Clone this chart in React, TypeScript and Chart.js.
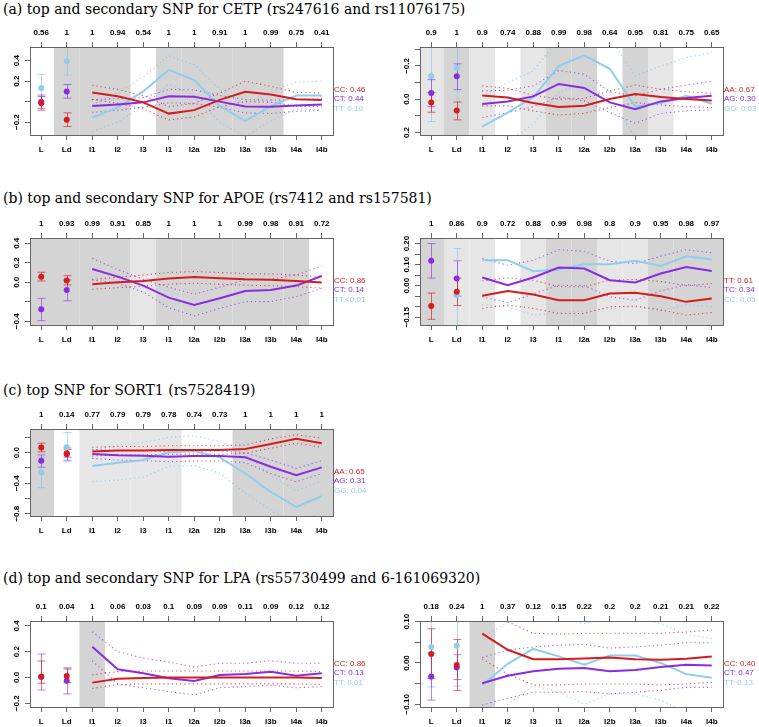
import React, { useEffect, useRef } from 'react';
import { Chart, registerables } from 'chart.js';
Chart.register(...registerables);

// ---------- shared ----------
const CATEGORIES = ['L', 'Ld', 'l1', 'l2', 'l3', 'l1', 'l2a', 'l2b', 'l3a', 'l3b', 'l4a', 'l4b'];
const TITLES = [
  '(a) top and secondary SNP for CETP (rs247616 and rs11076175)',
  '(b) top and secondary SNP for APOE (rs7412 and rs157581)',
  '(c) top SNP for SORT1 (rs7528419)',
  '(d) top and secondary SNP for LPA (rs55730499 and 6-161069320)',
];

// ---------- (a) left : CETP rs247616 ----------
const A1_TOP = ['0.56', '1', '1', '0.94', '0.54', '1', '1', '0.91', '1', '0.99', '0.75', '0.41'];
const A1_SHADE = [0, 2, 2, 2, 0, 2, 2, 2, 2, 2, 0, 0];
const A1_LEGEND = ['CC: 0.46', 'CT: 0.44', 'TT: 0.10'];
const A1_YRANGE = [-0.326, 0.534];
const A1_YTICKS = [-0.2, 0, 0.2, 0.4];
const A1_YLABELS = [-0.2, 0.2, 0.4];
const A1_CC = [0.09, 0.053, -0.007, -0.117, -0.083, 0.017, 0.097, 0.07, 0.023, 0.017];
const A1_CC_LO = [0.02, -0.015, -0.07, -0.18, -0.15, -0.05, 0.0, -0.005, -0.045, -0.05];
const A1_CC_HI = [0.16, 0.12, 0.06, -0.05, -0.015, 0.085, 0.2, 0.15, 0.09, 0.085];
const A1_CC_PT = [-0.016, -0.176];
const A1_CC_PT_LO = [-0.083, -0.243];
const A1_CC_PT_HI = [0.051, -0.11];
const A1_CT = [-0.043, -0.027, -0.007, 0.053, 0.047, 0.0, -0.047, -0.05, -0.037, -0.027];
const A1_CT_LO = [-0.105, -0.085, -0.055, -0.01, -0.02, -0.055, -0.11, -0.115, -0.095, -0.085];
const A1_CT_HI = [0.02, 0.03, 0.04, 0.12, 0.115, 0.06, 0.02, 0.015, 0.02, 0.03];
const A1_CT_PT = [0.0, 0.1];
const A1_CT_PT_LO = [-0.065, 0.034];
const A1_CT_PT_HI = [0.065, 0.167];
const A1_TT = [-0.157, -0.057, 0.1, 0.31, 0.21, -0.043, -0.19, -0.043, 0.06, 0.06];
const A1_TT_LO = [-0.29, -0.2, -0.04, 0.17, 0.06, -0.2, -0.34, -0.19, -0.07, -0.08];
const A1_TT_HI = [-0.03, 0.08, 0.24, 0.45, 0.36, 0.12, -0.04, 0.1, 0.19, 0.2];
const A1_TT_PT = [0.134, 0.394];
const A1_TT_PT_LO = [0.0, 0.26];
const A1_TT_PT_HI = [0.267, 0.53];

// ---------- (a) right : CETP rs11076175 (reversed axis) ----------
const A2_TOP = ['0.9', '1', '0.9', '0.74', '0.88', '0.99', '0.98', '0.64', '0.95', '0.81', '0.75', '0.65'];
const A2_SHADE = [1, 2, 1, 0, 1, 2, 2, 0, 2, 1, 0, 0];
const A2_LEGEND = ['AA: 0.67', 'AG: 0.30', 'GG: 0.03'];
const A2_YRANGE = [-0.314, 0.215];
const A2_YTICKS = [-0.3, -0.2, -0.1, 0, 0.1, 0.2];
const A2_YLABELS = [-0.2, 0, 0.2];
const A2_AA = [-0.023, -0.011, 0.023, 0.047, 0.039, -0.001, -0.031, -0.013, -0.001, 0.007];
const A2_AA_LO = [-0.08, -0.065, -0.025, 0.0, -0.005, -0.05, -0.085, -0.06, -0.045, -0.035];
const A2_AA_HI = [0.04, 0.04, 0.07, 0.095, 0.085, 0.05, 0.02, 0.035, 0.045, 0.05];
const A2_AA_PT = [0.019, 0.068];
const A2_AA_PT_LO = [-0.04, 0.017];
const A2_AA_PT_HI = [0.078, 0.124];
const A2_AG = [0.029, 0.013, -0.017, -0.092, -0.068, 0.019, 0.06, 0.013, -0.007, -0.021];
const A2_AG_LO = [-0.05, -0.055, -0.08, -0.173, -0.15, -0.045, -0.02, -0.06, -0.085, -0.108];
const A2_AG_HI = [0.11, 0.08, 0.045, -0.013, 0.01, 0.08, 0.145, 0.085, 0.07, 0.064];
const A2_AG_PT = [-0.037, -0.138];
const A2_AG_PT_LO = [-0.118, -0.213];
const A2_AG_PT_HI = [0.044, -0.058];
const A2_GG = [0.165, 0.08, -0.013, -0.199, -0.264, -0.183, 0.043, 0.023, -0.021, 0.027];
const A2_GG_LO = [-0.02, -0.1, -0.17, -0.36, -0.42, -0.37, -0.14, -0.2, -0.25, -0.28];
const A2_GG_HI = [0.35, 0.26, 0.15, -0.04, -0.1, 0.0, 0.23, 0.25, 0.21, 0.33];
const A2_GG_PT = [-0.14, -0.189];
const A2_GG_PT_LO = [-0.41, -0.45];
const A2_GG_PT_HI = [0.134, 0.07];

// ---------- (b) left : APOE rs7412 ----------
const B1_TOP = ['1', '0.93', '0.99', '0.91', '0.85', '1', '1', '1', '0.99', '0.98', '0.91', '0.72'];
const B1_SHADE = [2, 2, 2, 2, 1, 2, 2, 2, 2, 2, 2, 0];
const B1_LEGEND = ['CC: 0.86', 'CT: 0.14', 'TT:<0.01'];
const B1_YRANGE = [-0.438, 0.454];
const B1_YTICKS = [-0.4, -0.2, 0, 0.2, 0.4];
const B1_YLABELS = [-0.4, 0, 0.2, 0.4];
const B1_CC = [-0.02, 0.0, 0.014, 0.038, 0.055, 0.041, 0.031, 0.027, 0.014, -0.003];
const B1_CC_LO = [-0.072, -0.055, -0.04, -0.02, -0.01, -0.02, -0.03, -0.035, -0.045, -0.06];
const B1_CC_HI = [0.03, 0.05, 0.075, 0.1, 0.11, 0.1, 0.09, 0.085, 0.075, 0.05];
const B1_CC_PT = [0.057, 0.017];
const B1_CC_PT_LO = [0.013, -0.028];
const B1_CC_PT_HI = [0.103, 0.068];
const B1_CT = [0.137, 0.058, -0.034, -0.157, -0.232, -0.164, -0.089, -0.079, -0.034, 0.065];
const B1_CT_LO = [0.024, -0.01, -0.1, -0.26, -0.345, -0.267, -0.198, -0.198, -0.147, -0.062];
const B1_CT_HI = [0.246, 0.13, 0.03, -0.05, -0.123, -0.05, 0.024, 0.03, 0.075, 0.168];
const B1_CT_PT = [-0.277, -0.079];
const B1_CT_PT_LO = [-0.394, -0.19];
const B1_CT_PT_HI = [-0.164, 0.024];

// ---------- (b) right : APOE rs157581 ----------
const B2_TOP = ['1', '0.86', '0.9', '0.72', '0.88', '0.99', '0.98', '0.8', '0.9', '0.95', '0.98', '0.97'];
const B2_SHADE = [2, 1, 1, 0, 1, 2, 2, 1, 1, 2, 2, 2];
const B2_LEGEND = ['TT: 0.61', 'TC: 0.34', 'CC: 0.05'];
const B2_YRANGE = [-0.187, 0.2265];
const B2_YTICKS = [-0.15, -0.1, -0.05, 0, 0.05, 0.1, 0.15, 0.2];
const B2_YLABELS = [-0.15, 0, 0.1, 0.2];
const B2_TT = [-0.048, -0.026, -0.042, -0.069, -0.069, -0.037, -0.034, -0.05, -0.077, -0.061];
const B2_TT_LO = [-0.108, -0.092, -0.108, -0.132, -0.132, -0.1, -0.097, -0.115, -0.14, -0.128];
const B2_TT_HI = [0.023, 0.037, 0.026, -0.005, -0.005, 0.026, 0.03, 0.02, 0.0, 0.01];
const B2_TT_PT = [-0.097, -0.029];
const B2_TT_PT_LO = [-0.16, -0.094];
const B2_TT_PT_HI = [-0.035, 0.036];
const B2_TC = [0.039, 0.002, 0.039, 0.086, 0.081, 0.026, 0.015, 0.058, 0.089, 0.07];
const B2_TC_LO = [-0.053, -0.081, -0.04, 0.002, 0.0, -0.053, -0.069, -0.025, 0.005, -0.01];
const B2_TC_HI = [0.129, 0.097, 0.12, 0.171, 0.163, 0.116, 0.105, 0.14, 0.171, 0.156];
const B2_TC_PT = [0.118, 0.034];
const B2_TC_PT_LO = [0.036, -0.05];
const B2_TC_PT_HI = [0.2, 0.118];
const B2_CC = [0.121, 0.121, 0.069, 0.077, 0.102, 0.102, 0.118, 0.094, 0.14, 0.124];
const B2_CC_LO = [-0.09, -0.1, -0.14, -0.13, -0.12, -0.11, -0.1, -0.12, -0.09, -0.1];
const B2_CC_HI = [0.33, 0.34, 0.28, 0.29, 0.32, 0.31, 0.34, 0.31, 0.37, 0.35];
const B2_CC_PT = [null, -0.045];
const B2_CC_PT_LO = [null, -0.3];
const B2_CC_PT_HI = [null, 0.176];

// ---------- (c) SORT1 rs7528419 ----------
const C1_TOP = ['1', '0.14', '0.77', '0.79', '0.79', '0.78', '0.74', '0.73', '1', '1', '1', '1'];
const C1_SHADE = [2, 0, 1, 1, 1, 1, 0, 0, 2, 2, 2, 2];
const C1_LEGEND = ['AA: 0.65', 'AG: 0.31', 'GG: 0.04'];
const C1_YRANGE = [-0.83, 0.309];
const C1_YTICKS = [-0.8, -0.6, -0.4, -0.2, 0, 0.2];
const C1_YLABELS = [-0.8, -0.4, 0];
const C1_AA = [0.013, 0.026, 0.026, 0.035, 0.035, 0.035, 0.048, 0.114, 0.18, 0.123];
const C1_AA_LO = [-0.044, -0.031, -0.031, -0.022, -0.022, -0.022, -0.009, 0.057, 0.123, 0.07];
const C1_AA_HI = [0.07, 0.08, 0.08, 0.09, 0.09, 0.09, 0.1, 0.18, 0.233, 0.189];
const C1_AA_PT = [0.066, -0.01];
const C1_AA_PT_LO = [0.01, -0.06];
const C1_AA_PT_HI = [0.123, 0.04];
const C1_AG = [-0.018, -0.035, -0.04, -0.053, -0.044, -0.044, -0.062, -0.185, -0.295, -0.193];
const C1_AG_LO = [-0.075, -0.097, -0.106, -0.119, -0.11, -0.11, -0.132, -0.273, -0.383, -0.273];
const C1_AG_HI = [0.044, 0.026, 0.026, 0.013, 0.013, 0.022, 0.0, -0.097, -0.207, -0.106];
const C1_AG_PT = [-0.106, -0.02];
const C1_AG_PT_LO = [-0.19, -0.1];
const C1_AG_PT_HI = [-0.03, 0.06];
const C1_GG = [-0.176, -0.132, -0.097, 0.004, 0.022, -0.062, -0.273, -0.515, -0.712, -0.572];
const C1_GG_LO = [-0.38, -0.36, -0.32, -0.18, -0.17, -0.27, -0.53, -0.75, -0.95, -0.78];
const C1_GG_HI = [0.03, 0.1, 0.13, 0.2, 0.22, 0.145, -0.02, -0.3, -0.5, -0.37];
const C1_GG_PT = [-0.26, 0.07];
const C1_GG_PT_LO = [-0.46, -0.12];
const C1_GG_PT_HI = [-0.06, 0.264];

// ---------- (d) left : LPA rs55730499 ----------
const D1_TOP = ['0.1', '0.04', '1', '0.06', '0.03', '0.1', '0.09', '0.09', '0.11', '0.09', '0.12', '0.12'];
const D1_SHADE = [0, 0, 2, 0, 0, 0, 0, 0, 0, 0, 0, 0];
const D1_LEGEND = ['CC: 0.86', 'CT: 0.13', 'TT: 0.01'];
const D1_YRANGE = [-0.229, 0.438];
const D1_YTICKS = [-0.2, 0, 0.2, 0.4];
const D1_YLABELS = [-0.2, 0, 0.2, 0.4];
const D1_CC = [-0.04, -0.01, -0.005, 0.0, 0.0, 0.0, 0.0, 0.0, 0.0, -0.005];
const D1_CC_LO = [-0.085, -0.055, -0.05, -0.05, -0.05, -0.05, -0.05, -0.05, -0.05, -0.055];
const D1_CC_HI = [0.02, 0.045, 0.05, 0.05, 0.05, 0.05, 0.05, 0.05, 0.05, 0.045];
const D1_CC_PT = [0.006, 0.012];
const D1_CC_PT_LO = [-0.045, -0.04];
const D1_CC_PT_HI = [0.128, 0.065];
const D1_CT = [0.239, 0.063, 0.032, -0.006, -0.027, 0.019, 0.027, 0.045, 0.014, 0.032];
const D1_CT_LO = [0.13, -0.05, -0.08, -0.11, -0.135, -0.08, -0.07, -0.06, -0.08, -0.07];
const D1_CT_HI = [0.355, 0.2, 0.15, 0.12, 0.08, 0.11, 0.11, 0.13, 0.11, 0.11];
const D1_CT_PT = [0.006, -0.025];
const D1_CT_PT_LO = [-0.097, -0.128];
const D1_CT_PT_HI = [0.182, 0.075];

// ---------- (d) right : LPA 6-161069320 ----------
const D2_TOP = ['0.18', '0.24', '1', '0.37', '0.12', '0.15', '0.22', '0.2', '0.2', '0.21', '0.21', '0.22'];
const D2_SHADE = [0, 0, 2, 0, 0, 0, 0, 0, 0, 0, 0, 0];
const D2_LEGEND = ['CC: 0.40', 'CT: 0.47', 'TT: 0.13'];
const D2_YRANGE = [-0.1066, 0.1017];
const D2_YTICKS = [-0.1, -0.05, 0, 0.05, 0.1];
const D2_YLABELS = [-0.1, 0, 0.1];
const D2_CC = [0.071, 0.032, 0.009, 0.009, 0.011, 0.013, 0.009, 0.008, 0.01, 0.016];
const D2_CC_LO = [0.01, -0.027, -0.053, -0.053, -0.051, -0.051, -0.051, -0.053, -0.051, -0.047];
const D2_CC_HI = [0.135, 0.1, 0.072, 0.07, 0.072, 0.072, 0.072, 0.072, 0.075, 0.08];
const D2_CC_PT = [0.022, -0.005];
const D2_CC_PT_LO = [-0.038, -0.067];
const D2_CC_PT_HI = [0.083, 0.057];
const D2_CT = [-0.049, -0.031, -0.02, -0.014, -0.012, -0.02, -0.017, -0.01, -0.004, -0.006];
const D2_CT_LO = [-0.102, -0.085, -0.071, -0.071, -0.069, -0.075, -0.071, -0.066, -0.059, -0.059];
const D2_CT_HI = [0.013, 0.031, 0.039, 0.043, 0.045, 0.036, 0.039, 0.043, 0.049, 0.049];
const D2_CT_PT = [-0.033, -0.011];
const D2_CT_PT_LO = [-0.09, -0.04];
const D2_CT_PT_HI = [0.024, 0.02];
const D2_TT = [-0.054, -0.002, 0.034, 0.016, -0.004, 0.018, 0.018, 0.0, -0.027, -0.036];
const D2_TT_LO = [-0.17, -0.1, -0.055, -0.07, -0.1, -0.075, -0.075, -0.09, -0.12, -0.13];
const D2_TT_HI = [0.06, 0.1, 0.12, 0.11, 0.095, 0.11, 0.11, 0.095, 0.07, 0.059];
const D2_TT_PT = [0.039, 0.042];
const D2_TT_PT_LO = [-0.058, -0.056];
const D2_TT_PT_HI = [0.136, 0.14];

// ---------- styling ----------
const RED = { main: '#d41c1c', bar: 'rgba(212,28,28,0.65)', dot: 'rgba(212,28,28,0.75)', text: '#d41c1c' };
const PURPLE = { main: '#8a2be2', bar: 'rgba(138,43,226,0.6)', dot: 'rgba(138,43,226,0.75)', text: '#8a2be2' };
const LBLUE = { main: '#8ecdec', bar: 'rgba(135,200,235,0.7)', dot: 'rgba(135,200,235,0.85)', text: '#93cdea' };
const SHADES = ['', '#e6e6e6', '#d4d4d4'];
const AXIS = '#666666';
const SANS = '"Liberation Sans", Arial, Helvetica, sans-serif';
const SERIF = '"DejaVu Serif", "Liberation Serif", serif';

const COLS = [
  { left: 0, width: 378, axisW: 30, padRight: 45 },
  { left: 378, width: 381, axisW: 42, padRight: 36 },
];
const ROWS = [
  { top: 18, height: 144, topH: 29, botH: 27 },
  { top: 208, height: 144, topH: 30, botH: 27 },
  { top: 400, height: 144, topH: 29, botH: 28 },
  { top: 592, height: 135, topH: 29, botH: 20 },
];
const TITLE_TOPS = [0.5, 190, 382, 570];

type Style = { main: string; bar: string; dot: string; text: string };
type Series = {
  style: Style;
  line: number[];
  lo: number[];
  hi: number[];
  pt: (number | null)[];
  ptLo: (number | null)[];
  ptHi: (number | null)[];
};
type Spec = {
  col: number;
  row: number;
  top: string[];
  shade: number[];
  legend: string[];
  legendColors: string[];
  yRange: number[];
  yTicks: number[];
  yLabels: number[];
  dec: number;
  reverse: boolean;
  series: Series[];
};

const S = (style: Style, line: number[], lo: number[], hi: number[], pt: (number | null)[], ptLo: (number | null)[], ptHi: (number | null)[]): Series => ({ style, line, lo, hi, pt, ptLo, ptHi });
const LEG3 = [RED.text, PURPLE.text, LBLUE.text];

const PANELS: Spec[] = [
  {
    col: 0, row: 0, top: A1_TOP, shade: A1_SHADE, legend: A1_LEGEND, legendColors: LEG3,
    yRange: A1_YRANGE, yTicks: A1_YTICKS, yLabels: A1_YLABELS, dec: 1, reverse: false,
    series: [
      S(RED, A1_CC, A1_CC_LO, A1_CC_HI, A1_CC_PT, A1_CC_PT_LO, A1_CC_PT_HI),
      S(PURPLE, A1_CT, A1_CT_LO, A1_CT_HI, A1_CT_PT, A1_CT_PT_LO, A1_CT_PT_HI),
      S(LBLUE, A1_TT, A1_TT_LO, A1_TT_HI, A1_TT_PT, A1_TT_PT_LO, A1_TT_PT_HI),
    ],
  },
  {
    col: 1, row: 0, top: A2_TOP, shade: A2_SHADE, legend: A2_LEGEND, legendColors: LEG3,
    yRange: A2_YRANGE, yTicks: A2_YTICKS, yLabels: A2_YLABELS, dec: 1, reverse: true,
    series: [
      S(RED, A2_AA, A2_AA_LO, A2_AA_HI, A2_AA_PT, A2_AA_PT_LO, A2_AA_PT_HI),
      S(PURPLE, A2_AG, A2_AG_LO, A2_AG_HI, A2_AG_PT, A2_AG_PT_LO, A2_AG_PT_HI),
      S(LBLUE, A2_GG, A2_GG_LO, A2_GG_HI, A2_GG_PT, A2_GG_PT_LO, A2_GG_PT_HI),
    ],
  },
  {
    col: 0, row: 1, top: B1_TOP, shade: B1_SHADE, legend: B1_LEGEND, legendColors: LEG3,
    yRange: B1_YRANGE, yTicks: B1_YTICKS, yLabels: B1_YLABELS, dec: 1, reverse: false,
    series: [
      S(RED, B1_CC, B1_CC_LO, B1_CC_HI, B1_CC_PT, B1_CC_PT_LO, B1_CC_PT_HI),
      S(PURPLE, B1_CT, B1_CT_LO, B1_CT_HI, B1_CT_PT, B1_CT_PT_LO, B1_CT_PT_HI),
    ],
  },
  {
    col: 1, row: 1, top: B2_TOP, shade: B2_SHADE, legend: B2_LEGEND, legendColors: LEG3,
    yRange: B2_YRANGE, yTicks: B2_YTICKS, yLabels: B2_YLABELS, dec: 2, reverse: false,
    series: [
      S(RED, B2_TT, B2_TT_LO, B2_TT_HI, B2_TT_PT, B2_TT_PT_LO, B2_TT_PT_HI),
      S(PURPLE, B2_TC, B2_TC_LO, B2_TC_HI, B2_TC_PT, B2_TC_PT_LO, B2_TC_PT_HI),
      S(LBLUE, B2_CC, B2_CC_LO, B2_CC_HI, B2_CC_PT, B2_CC_PT_LO, B2_CC_PT_HI),
    ],
  },
  {
    col: 0, row: 2, top: C1_TOP, shade: C1_SHADE, legend: C1_LEGEND, legendColors: LEG3,
    yRange: C1_YRANGE, yTicks: C1_YTICKS, yLabels: C1_YLABELS, dec: 1, reverse: false,
    series: [
      S(RED, C1_AA, C1_AA_LO, C1_AA_HI, C1_AA_PT, C1_AA_PT_LO, C1_AA_PT_HI),
      S(PURPLE, C1_AG, C1_AG_LO, C1_AG_HI, C1_AG_PT, C1_AG_PT_LO, C1_AG_PT_HI),
      S(LBLUE, C1_GG, C1_GG_LO, C1_GG_HI, C1_GG_PT, C1_GG_PT_LO, C1_GG_PT_HI),
    ],
  },
  {
    col: 0, row: 3, top: D1_TOP, shade: D1_SHADE, legend: D1_LEGEND, legendColors: LEG3,
    yRange: D1_YRANGE, yTicks: D1_YTICKS, yLabels: D1_YLABELS, dec: 1, reverse: false,
    series: [
      S(RED, D1_CC, D1_CC_LO, D1_CC_HI, D1_CC_PT, D1_CC_PT_LO, D1_CC_PT_HI),
      S(PURPLE, D1_CT, D1_CT_LO, D1_CT_HI, D1_CT_PT, D1_CT_PT_LO, D1_CT_PT_HI),
    ],
  },
  {
    col: 1, row: 3, top: D2_TOP, shade: D2_SHADE, legend: D2_LEGEND, legendColors: LEG3,
    yRange: D2_YRANGE, yTicks: D2_YTICKS, yLabels: D2_YLABELS, dec: 2, reverse: false,
    series: [
      S(RED, D2_CC, D2_CC_LO, D2_CC_HI, D2_CC_PT, D2_CC_PT_LO, D2_CC_PT_HI),
      S(PURPLE, D2_CT, D2_CT_LO, D2_CT_HI, D2_CT_PT, D2_CT_PT_LO, D2_CT_PT_HI),
      S(LBLUE, D2_TT, D2_TT_LO, D2_TT_HI, D2_TT_PT, D2_TT_PT_LO, D2_TT_PT_HI),
    ],
  },
];

function fmtY(v: number, dec: number): string {
  const s = Math.abs(v).toFixed(dec);
  return (v < -1e-9 ? '\u2212' : '') + s;
}

function makePlugin(spec: Spec) {
  return {
    id: 'panelDecor',
    beforeDatasetsDraw(chart: any) {
      const { ctx, chartArea: a } = chart;
      const x = chart.scales.x;
      const y = chart.scales.y;
      ctx.save();
      spec.shade.forEach((s, i) => {
        if (!s) return;
        let x0 = x.getPixelForValue(i - 0.5);
        let x1 = x.getPixelForValue(i + 0.5);
        if (i === 0) x0 = a.left;
        if (i === spec.shade.length - 1) x1 = a.right;
        ctx.fillStyle = SHADES[s];
        ctx.fillRect(x0, a.top, x1 - x0, a.bottom - a.top);
      });
      ctx.beginPath();
      ctx.rect(a.left, a.top, a.right - a.left, a.bottom - a.top);
      ctx.clip();
      const order = [...spec.series].reverse();
      for (const s of order) {
        for (let k = 0; k < 2; k++) {
          const lo = s.ptLo[k];
          const hi = s.ptHi[k];
          if (lo == null || hi == null) continue;
          const px = Math.round(x.getPixelForValue(k)) + 0.5;
          const p0 = y.getPixelForValue(lo);
          const p1 = y.getPixelForValue(hi);
          ctx.strokeStyle = s.style.bar;
          ctx.lineWidth = 1;
          ctx.beginPath();
          ctx.moveTo(px, p0);
          ctx.lineTo(px, p1);
          ctx.moveTo(px - 4, p0);
          ctx.lineTo(px + 4, p0);
          ctx.moveTo(px - 4, p1);
          ctx.lineTo(px + 4, p1);
          ctx.stroke();
        }
      }
      ctx.restore();
    },
    afterDraw(chart: any) {
      const { ctx, chartArea: a } = chart;
      const y = chart.scales.y;
      ctx.save();
      ctx.strokeStyle = AXIS;
      ctx.lineWidth = 1;
      ctx.strokeRect(Math.round(a.left) + 0.5, Math.round(a.top) + 0.5, Math.round(a.right - a.left), Math.round(a.bottom - a.top));
      ctx.fillStyle = '#000';
      ctx.font = `bold 8px ${SANS}`;
      ctx.textAlign = 'center';
      ctx.textBaseline = 'middle';
      for (const v of spec.yLabels) {
        const py = y.getPixelForValue(v);
        ctx.save();
        ctx.translate(a.left - 13, py);
        ctx.rotate(-Math.PI / 2);
        ctx.fillText(fmtY(v, spec.dec), 0, 0);
        ctx.restore();
      }
      ctx.font = `8px ${SANS}`;
      ctx.textAlign = 'left';
      spec.legend.forEach((t, i) => {
        ctx.fillStyle = spec.legendColors[i];
        ctx.fillText(t, a.right + 1, a.top + 42.5 + i * 9.7);
      });
      ctx.restore();
    },
  };
}

function xAxis(position: 'top' | 'bottom', labels: string[], size: number, pad: number) {
  return {
    type: 'linear',
    position,
    min: -0.44,
    max: 11.44,
    bounds: 'data',
    afterBuildTicks: (ax: any) => {
      ax.ticks = CATEGORIES.map((_, i) => ({ value: i }));
    },
    afterFit: (ax: any) => {
      ax.height = size;
    },
    grid: { display: true, drawOnChartArea: false, drawTicks: true, tickLength: 5, color: AXIS, lineWidth: 1 },
    border: { display: false },
    ticks: {
      autoSkip: false,
      maxRotation: 0,
      minRotation: 0,
      padding: pad,
      color: '#000',
      font: { family: SANS, size: 8, weight: 'bold' },
      callback: (v: any) => labels[Math.round(Number(v))] ?? '',
    },
  };
}

function Panel({ spec }: { spec: Spec }) {
  const ref = useRef<HTMLCanvasElement | null>(null);
  const col = COLS[spec.col];
  const row = ROWS[spec.row];
  useEffect(() => {
    if (!ref.current) return;
    const datasets: any[] = [];
    spec.series.forEach((s, si) => {
      const pts: any[] = [];
      s.pt.forEach((v, k) => {
        if (v != null) pts.push({ x: k, y: v });
      });
      datasets.push({
        type: 'scatter', data: pts, xAxisID: 'x', yAxisID: 'y',
        backgroundColor: s.style.main, borderColor: s.style.main, borderWidth: 0,
        pointRadius: 3, order: si * 0.1,
      });
    });
    spec.series.forEach((s, si) => {
      datasets.push({
        type: 'line', data: s.line.map((v, i) => ({ x: i + 2, y: v })), xAxisID: 'x', yAxisID: 'y',
        borderColor: s.style.main, borderWidth: 2, pointRadius: 0, fill: false, tension: 0, order: 1 + si,
      });
    });
    spec.series.forEach((s, si) => {
      [s.lo, s.hi].forEach((arr) => {
        datasets.push({
          type: 'line', data: arr.map((v, i) => ({ x: i + 2, y: v })), xAxisID: 'x', yAxisID: 'y',
          borderColor: s.style.dot, borderWidth: 1.1, borderDash: [1.2, 3], pointRadius: 0, fill: false,
          tension: 0, order: 10 + si,
        });
      });
    });
    const chart = new Chart(ref.current, {
      type: 'line',
      data: { datasets },
      options: {
        animation: false,
        responsive: false,
        maintainAspectRatio: false,
        events: [],
        layout: { padding: { left: 0, right: col.padRight, top: 0, bottom: 0 } },
        plugins: { legend: { display: false }, tooltip: { enabled: false }, title: { display: false } },
        scales: {
          x: xAxis('bottom', CATEGORIES, row.botH, 5),
          xTop: xAxis('top', spec.top, row.topH, 4),
          y: {
            type: 'linear',
            position: 'left',
            min: spec.yRange[0],
            max: spec.yRange[1],
            reverse: spec.reverse,
            bounds: 'data',
            afterBuildTicks: (ax: any) => {
              ax.ticks = spec.yTicks.map((v) => ({ value: v }));
            },
            afterFit: (ax: any) => {
              ax.width = col.axisW;
            },
            grid: { display: true, drawOnChartArea: false, drawTicks: true, tickLength: 5, color: AXIS, lineWidth: 1 },
            border: { display: false },
            ticks: { display: false },
          },
        },
      } as any,
      plugins: [makePlugin(spec)],
    } as any);
    return () => chart.destroy();
  }, []);
  return (
    <canvas
      ref={ref}
      width={col.width}
      height={row.height}
      style={{ position: 'absolute', left: col.left, top: row.top, width: col.width, height: row.height }}
    />
  );
}

export default function App() {
  return (
    <div style={{ position: 'absolute', left: 0, top: 0, width: 759, height: 727, background: '#fff', overflow: 'hidden' }}>
      {TITLES.map((t, i) => (
        <div
          key={i}
          style={{
            position: 'absolute', left: 3, top: TITLE_TOPS[i], fontFamily: SERIF,
            fontSize: 14, lineHeight: '16px', whiteSpace: 'nowrap', color: '#000',
          }}
        >
          {t}
        </div>
      ))}
      {PANELS.map((p, i) => (
        <Panel key={i} spec={p} />
      ))}
    </div>
  );
}
